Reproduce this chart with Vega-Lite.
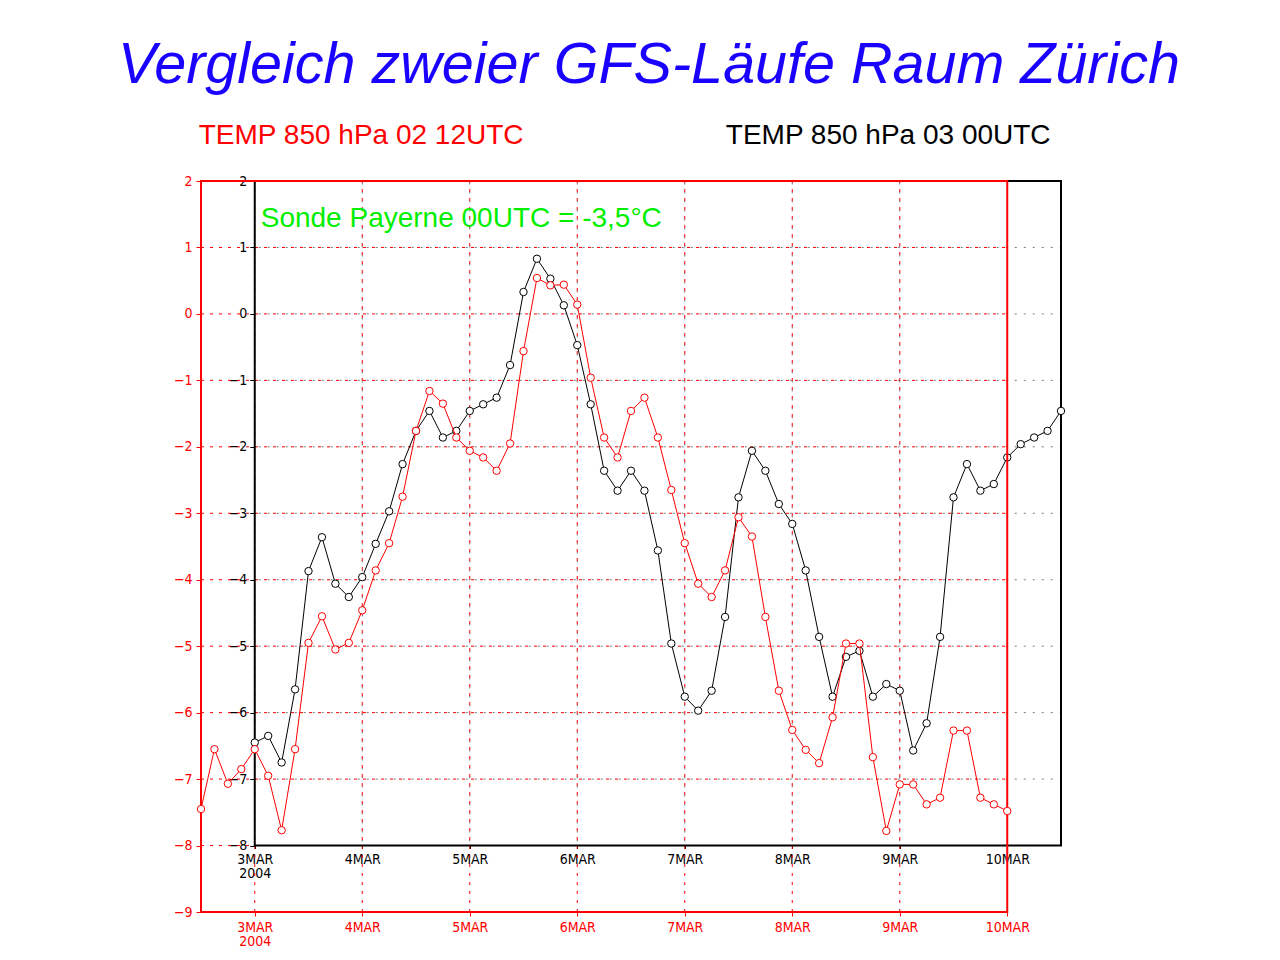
{
  "$schema": "https://vega.github.io/schema/vega-lite/v6.json",
  "width": 860,
  "height": 731,
  "autosize": "none",
  "padding": {"left": 201, "top": 181, "right": 219, "bottom": 48},
  "background": "white",
  "config": {"view": {"stroke": null}},
  "title": {
    "text": "Vergleich zweier GFS-Läufe Raum Zürich",
    "font": "Liberation Sans, Arial, sans-serif",
    "fontSize": 57.5,
    "fontStyle": "italic",
    "fontWeight": "normal",
    "color": "#1a00ff",
    "anchor": "middle",
    "frame": "group",
    "dx": 18,
    "offset": -19,
    "baseline": "alphabetic"
  },
  "datasets": {
    "levels": [{"v": -8}, {"v": -7}, {"v": -6}, {"v": -5}, {"v": -4}, {"v": -3}, {"v": -2}, {"v": -1}, {"v": 0}, {"v": 1}],
    "days": [
      {"d": 3, "t": "2004-03-03T00:00:00Z"}, {"d": 4, "t": "2004-03-04T00:00:00Z"},
      {"d": 5, "t": "2004-03-05T00:00:00Z"}, {"d": 6, "t": "2004-03-06T00:00:00Z"},
      {"d": 7, "t": "2004-03-07T00:00:00Z"}, {"d": 8, "t": "2004-03-08T00:00:00Z"},
      {"d": 9, "t": "2004-03-09T00:00:00Z"}, {"d": 10, "t": "2004-03-10T00:00:00Z"}
    ],
    "series": [
      {"run": "02 12UTC", "t": "2004-03-02T12:00:00Z", "v": -7.45},
      {"run": "02 12UTC", "t": "2004-03-02T15:00:00Z", "v": -6.55},
      {"run": "02 12UTC", "t": "2004-03-02T18:00:00Z", "v": -7.07},
      {"run": "02 12UTC", "t": "2004-03-02T21:00:00Z", "v": -6.85},
      {"run": "02 12UTC", "t": "2004-03-03T00:00:00Z", "v": -6.55},
      {"run": "02 12UTC", "t": "2004-03-03T03:00:00Z", "v": -6.95},
      {"run": "02 12UTC", "t": "2004-03-03T06:00:00Z", "v": -7.77},
      {"run": "02 12UTC", "t": "2004-03-03T09:00:00Z", "v": -6.55},
      {"run": "02 12UTC", "t": "2004-03-03T12:00:00Z", "v": -4.95},
      {"run": "02 12UTC", "t": "2004-03-03T15:00:00Z", "v": -4.55},
      {"run": "02 12UTC", "t": "2004-03-03T18:00:00Z", "v": -5.05},
      {"run": "02 12UTC", "t": "2004-03-03T21:00:00Z", "v": -4.95},
      {"run": "02 12UTC", "t": "2004-03-04T00:00:00Z", "v": -4.46},
      {"run": "02 12UTC", "t": "2004-03-04T03:00:00Z", "v": -3.86},
      {"run": "02 12UTC", "t": "2004-03-04T06:00:00Z", "v": -3.45},
      {"run": "02 12UTC", "t": "2004-03-04T09:00:00Z", "v": -2.75},
      {"run": "02 12UTC", "t": "2004-03-04T12:00:00Z", "v": -1.76},
      {"run": "02 12UTC", "t": "2004-03-04T15:00:00Z", "v": -1.16},
      {"run": "02 12UTC", "t": "2004-03-04T18:00:00Z", "v": -1.35},
      {"run": "02 12UTC", "t": "2004-03-04T21:00:00Z", "v": -1.86},
      {"run": "02 12UTC", "t": "2004-03-05T00:00:00Z", "v": -2.06},
      {"run": "02 12UTC", "t": "2004-03-05T03:00:00Z", "v": -2.16},
      {"run": "02 12UTC", "t": "2004-03-05T06:00:00Z", "v": -2.36},
      {"run": "02 12UTC", "t": "2004-03-05T09:00:00Z", "v": -1.95},
      {"run": "02 12UTC", "t": "2004-03-05T12:00:00Z", "v": -0.56},
      {"run": "02 12UTC", "t": "2004-03-05T15:00:00Z", "v": 0.54},
      {"run": "02 12UTC", "t": "2004-03-05T18:00:00Z", "v": 0.43},
      {"run": "02 12UTC", "t": "2004-03-05T21:00:00Z", "v": 0.44},
      {"run": "02 12UTC", "t": "2004-03-06T00:00:00Z", "v": 0.14},
      {"run": "02 12UTC", "t": "2004-03-06T03:00:00Z", "v": -0.96},
      {"run": "02 12UTC", "t": "2004-03-06T06:00:00Z", "v": -1.86},
      {"run": "02 12UTC", "t": "2004-03-06T09:00:00Z", "v": -2.16},
      {"run": "02 12UTC", "t": "2004-03-06T12:00:00Z", "v": -1.46},
      {"run": "02 12UTC", "t": "2004-03-06T15:00:00Z", "v": -1.26},
      {"run": "02 12UTC", "t": "2004-03-06T18:00:00Z", "v": -1.86},
      {"run": "02 12UTC", "t": "2004-03-06T21:00:00Z", "v": -2.65},
      {"run": "02 12UTC", "t": "2004-03-07T00:00:00Z", "v": -3.45},
      {"run": "02 12UTC", "t": "2004-03-07T03:00:00Z", "v": -4.06},
      {"run": "02 12UTC", "t": "2004-03-07T06:00:00Z", "v": -4.26},
      {"run": "02 12UTC", "t": "2004-03-07T09:00:00Z", "v": -3.86},
      {"run": "02 12UTC", "t": "2004-03-07T12:00:00Z", "v": -3.06},
      {"run": "02 12UTC", "t": "2004-03-07T15:00:00Z", "v": -3.35},
      {"run": "02 12UTC", "t": "2004-03-07T18:00:00Z", "v": -4.56},
      {"run": "02 12UTC", "t": "2004-03-07T21:00:00Z", "v": -5.67},
      {"run": "02 12UTC", "t": "2004-03-08T00:00:00Z", "v": -6.26},
      {"run": "02 12UTC", "t": "2004-03-08T03:00:00Z", "v": -6.56},
      {"run": "02 12UTC", "t": "2004-03-08T06:00:00Z", "v": -6.76},
      {"run": "02 12UTC", "t": "2004-03-08T09:00:00Z", "v": -6.07},
      {"run": "02 12UTC", "t": "2004-03-08T12:00:00Z", "v": -4.96},
      {"run": "02 12UTC", "t": "2004-03-08T15:00:00Z", "v": -4.96},
      {"run": "02 12UTC", "t": "2004-03-08T18:00:00Z", "v": -6.67},
      {"run": "02 12UTC", "t": "2004-03-08T21:00:00Z", "v": -7.78},
      {"run": "02 12UTC", "t": "2004-03-09T00:00:00Z", "v": -7.08},
      {"run": "02 12UTC", "t": "2004-03-09T03:00:00Z", "v": -7.08},
      {"run": "02 12UTC", "t": "2004-03-09T06:00:00Z", "v": -7.38},
      {"run": "02 12UTC", "t": "2004-03-09T09:00:00Z", "v": -7.28},
      {"run": "02 12UTC", "t": "2004-03-09T12:00:00Z", "v": -6.27},
      {"run": "02 12UTC", "t": "2004-03-09T15:00:00Z", "v": -6.27},
      {"run": "02 12UTC", "t": "2004-03-09T18:00:00Z", "v": -7.28},
      {"run": "02 12UTC", "t": "2004-03-09T21:00:00Z", "v": -7.38},
      {"run": "02 12UTC", "t": "2004-03-10T00:00:00Z", "v": -7.48},
      {"run": "03 00UTC", "t": "2004-03-03T00:00:00Z", "v": -6.45},
      {"run": "03 00UTC", "t": "2004-03-03T03:00:00Z", "v": -6.35},
      {"run": "03 00UTC", "t": "2004-03-03T06:00:00Z", "v": -6.75},
      {"run": "03 00UTC", "t": "2004-03-03T09:00:00Z", "v": -5.65},
      {"run": "03 00UTC", "t": "2004-03-03T12:00:00Z", "v": -3.87},
      {"run": "03 00UTC", "t": "2004-03-03T15:00:00Z", "v": -3.36},
      {"run": "03 00UTC", "t": "2004-03-03T18:00:00Z", "v": -4.06},
      {"run": "03 00UTC", "t": "2004-03-03T21:00:00Z", "v": -4.26},
      {"run": "03 00UTC", "t": "2004-03-04T00:00:00Z", "v": -3.96},
      {"run": "03 00UTC", "t": "2004-03-04T03:00:00Z", "v": -3.46},
      {"run": "03 00UTC", "t": "2004-03-04T06:00:00Z", "v": -2.97},
      {"run": "03 00UTC", "t": "2004-03-04T09:00:00Z", "v": -2.26},
      {"run": "03 00UTC", "t": "2004-03-04T12:00:00Z", "v": -1.76},
      {"run": "03 00UTC", "t": "2004-03-04T15:00:00Z", "v": -1.46},
      {"run": "03 00UTC", "t": "2004-03-04T18:00:00Z", "v": -1.86},
      {"run": "03 00UTC", "t": "2004-03-04T21:00:00Z", "v": -1.76},
      {"run": "03 00UTC", "t": "2004-03-05T00:00:00Z", "v": -1.46},
      {"run": "03 00UTC", "t": "2004-03-05T03:00:00Z", "v": -1.36},
      {"run": "03 00UTC", "t": "2004-03-05T06:00:00Z", "v": -1.26},
      {"run": "03 00UTC", "t": "2004-03-05T09:00:00Z", "v": -0.77},
      {"run": "03 00UTC", "t": "2004-03-05T12:00:00Z", "v": 0.33},
      {"run": "03 00UTC", "t": "2004-03-05T15:00:00Z", "v": 0.83},
      {"run": "03 00UTC", "t": "2004-03-05T18:00:00Z", "v": 0.53},
      {"run": "03 00UTC", "t": "2004-03-05T21:00:00Z", "v": 0.13},
      {"run": "03 00UTC", "t": "2004-03-06T00:00:00Z", "v": -0.47},
      {"run": "03 00UTC", "t": "2004-03-06T03:00:00Z", "v": -1.36},
      {"run": "03 00UTC", "t": "2004-03-06T06:00:00Z", "v": -2.36},
      {"run": "03 00UTC", "t": "2004-03-06T09:00:00Z", "v": -2.66},
      {"run": "03 00UTC", "t": "2004-03-06T12:00:00Z", "v": -2.36},
      {"run": "03 00UTC", "t": "2004-03-06T15:00:00Z", "v": -2.66},
      {"run": "03 00UTC", "t": "2004-03-06T18:00:00Z", "v": -3.56},
      {"run": "03 00UTC", "t": "2004-03-06T21:00:00Z", "v": -4.96},
      {"run": "03 00UTC", "t": "2004-03-07T00:00:00Z", "v": -5.76},
      {"run": "03 00UTC", "t": "2004-03-07T03:00:00Z", "v": -5.97},
      {"run": "03 00UTC", "t": "2004-03-07T06:00:00Z", "v": -5.67},
      {"run": "03 00UTC", "t": "2004-03-07T09:00:00Z", "v": -4.56},
      {"run": "03 00UTC", "t": "2004-03-07T12:00:00Z", "v": -2.76},
      {"run": "03 00UTC", "t": "2004-03-07T15:00:00Z", "v": -2.06},
      {"run": "03 00UTC", "t": "2004-03-07T18:00:00Z", "v": -2.36},
      {"run": "03 00UTC", "t": "2004-03-07T21:00:00Z", "v": -2.86},
      {"run": "03 00UTC", "t": "2004-03-08T00:00:00Z", "v": -3.16},
      {"run": "03 00UTC", "t": "2004-03-08T03:00:00Z", "v": -3.86},
      {"run": "03 00UTC", "t": "2004-03-08T06:00:00Z", "v": -4.86},
      {"run": "03 00UTC", "t": "2004-03-08T09:00:00Z", "v": -5.76},
      {"run": "03 00UTC", "t": "2004-03-08T12:00:00Z", "v": -5.16},
      {"run": "03 00UTC", "t": "2004-03-08T15:00:00Z", "v": -5.07},
      {"run": "03 00UTC", "t": "2004-03-08T18:00:00Z", "v": -5.76},
      {"run": "03 00UTC", "t": "2004-03-08T21:00:00Z", "v": -5.57},
      {"run": "03 00UTC", "t": "2004-03-09T00:00:00Z", "v": -5.67},
      {"run": "03 00UTC", "t": "2004-03-09T03:00:00Z", "v": -6.57},
      {"run": "03 00UTC", "t": "2004-03-09T06:00:00Z", "v": -6.16},
      {"run": "03 00UTC", "t": "2004-03-09T09:00:00Z", "v": -4.86},
      {"run": "03 00UTC", "t": "2004-03-09T12:00:00Z", "v": -2.76},
      {"run": "03 00UTC", "t": "2004-03-09T15:00:00Z", "v": -2.26},
      {"run": "03 00UTC", "t": "2004-03-09T18:00:00Z", "v": -2.66},
      {"run": "03 00UTC", "t": "2004-03-09T21:00:00Z", "v": -2.56},
      {"run": "03 00UTC", "t": "2004-03-10T00:00:00Z", "v": -2.16},
      {"run": "03 00UTC", "t": "2004-03-10T03:00:00Z", "v": -1.96},
      {"run": "03 00UTC", "t": "2004-03-10T06:00:00Z", "v": -1.86},
      {"run": "03 00UTC", "t": "2004-03-10T09:00:00Z", "v": -1.76},
      {"run": "03 00UTC", "t": "2004-03-10T12:00:00Z", "v": -1.46}
    ]
  },
  "resolve": {
    "scale": {"x": "independent", "y": "independent"},
    "axis": {"x": "independent", "y": "independent"}
  },
  "layer": [
    {
      "layer": [
        {
          "data": {"name": "levels"},
          "transform": [{"filter": "datum.v > -8"}],
          "mark": {"type": "rule", "color": "#7a7a7a", "strokeWidth": 1, "strokeDash": [2, 7], "strokeDashOffset": -4},
          "encoding": {
            "y": {"field": "v", "type": "quantitative", "scale": {"domain": [-9, 2], "nice": false, "zero": false}, "axis": null},
            "x": {"datum": {"year": 2004, "month": 3, "date": 3, "utc": true}, "type": "temporal", "scale": {"type": "utc", "nice": false, "domain": [{"year": 2004, "month": 3, "date": 2, "hours": 12, "utc": true}, {"year": 2004, "month": 3, "date": 10, "hours": 12, "utc": true}]}, "axis": null},
            "x2": {"datum": {"year": 2004, "month": 3, "date": 10, "hours": 12, "utc": true}}
          }
        },
        {
          "data": {"name": "days"},
          "transform": [{"filter": "datum.d > 3"}],
          "mark": {"type": "rule", "color": "#7a7a7a", "strokeWidth": 1, "strokeDash": [2, 7], "strokeDashOffset": -4},
          "encoding": {
            "x": {"field": "t", "type": "temporal", "scale": {"type": "utc", "nice": false, "domain": [{"year": 2004, "month": 3, "date": 2, "hours": 12, "utc": true}, {"year": 2004, "month": 3, "date": 10, "hours": 12, "utc": true}]}, "axis": null},
            "y": {"datum": -8, "type": "quantitative", "scale": {"domain": [-9, 2], "nice": false, "zero": false}, "axis": null},
            "y2": {"datum": 2}
          }
        }
      ]
    },
    {
      "layer": [
        {
          "data": {"name": "levels"},
          "mark": {"type": "rule", "color": "#ff0000", "strokeWidth": 1, "strokeDash": [3, 6]},
          "encoding": {
            "y": {"field": "v", "type": "quantitative", "scale": {"domain": [-9, 2], "nice": false, "zero": false}, "axis": null},
            "x": {"datum": {"year": 2004, "month": 3, "date": 2, "hours": 12, "utc": true}, "type": "temporal", "scale": {"type": "utc", "nice": false, "domain": [{"year": 2004, "month": 3, "date": 2, "hours": 12, "utc": true}, {"year": 2004, "month": 3, "date": 10, "hours": 12, "utc": true}]}, "axis": null},
            "x2": {"datum": {"year": 2004, "month": 3, "date": 10, "utc": true}}
          }
        },
        {
          "data": {"name": "days"},
          "transform": [{"filter": "datum.d < 10"}],
          "mark": {"type": "rule", "color": "#ff0000", "strokeWidth": 1, "strokeDash": [3, 6]},
          "encoding": {
            "x": {"field": "t", "type": "temporal", "scale": {"type": "utc", "nice": false, "domain": [{"year": 2004, "month": 3, "date": 2, "hours": 12, "utc": true}, {"year": 2004, "month": 3, "date": 10, "hours": 12, "utc": true}]}, "axis": null},
            "y": {"datum": -9, "type": "quantitative", "scale": {"domain": [-9, 2], "nice": false, "zero": false}, "axis": null},
            "y2": {"datum": 2}
          }
        }
      ]
    },
    {
      "data": {"values": [{}]},
      "mark": {"type": "rect", "fillOpacity": 0, "stroke": "#000000", "strokeWidth": 2},
      "encoding": {
        "x": {"datum": {"year": 2004, "month": 3, "date": 3, "utc": true}, "type": "temporal", "scale": {"type": "utc", "nice": false, "domain": [{"year": 2004, "month": 3, "date": 2, "hours": 12, "utc": true}, {"year": 2004, "month": 3, "date": 10, "hours": 12, "utc": true}]}, "axis": null},
        "x2": {"datum": {"year": 2004, "month": 3, "date": 10, "hours": 12, "utc": true}},
        "y": {"datum": -8, "type": "quantitative", "scale": {"domain": [-9, 2], "nice": false, "zero": false}, "axis": null},
        "y2": {"datum": 2}
      }
    },
    {
      "data": {"name": "series"},
      "transform": [{"filter": "datum.run == '03 00UTC'"}],
      "mark": {
        "type": "line", "color": "#000000", "strokeWidth": 1,
        "point": {"filled": false, "fill": "#ffffff", "fillOpacity": 1, "stroke": "#000000", "strokeWidth": 1, "size": 55, "shape": "circle", "opacity": 1}
      },
      "encoding": {
        "x": {
          "field": "t", "type": "temporal",
          "scale": {"type": "utc", "nice": false, "domain": [{"year": 2004, "month": 3, "date": 2, "hours": 12, "utc": true}, {"year": 2004, "month": 3, "date": 10, "hours": 12, "utc": true}]},
          "axis": {
            "orient": "bottom", "offset": -66.5, "title": null, "domain": false, "grid": false,
            "values": [
              {"year": 2004, "month": 3, "date": 3, "utc": true}, {"year": 2004, "month": 3, "date": 4, "utc": true},
              {"year": 2004, "month": 3, "date": 5, "utc": true}, {"year": 2004, "month": 3, "date": 6, "utc": true},
              {"year": 2004, "month": 3, "date": 7, "utc": true}, {"year": 2004, "month": 3, "date": 8, "utc": true},
              {"year": 2004, "month": 3, "date": 9, "utc": true}, {"year": 2004, "month": 3, "date": 10, "utc": true}
            ],
            "labelExpr": "utcdate(datum.value) == 3 ? [utcdate(datum.value) + 'MAR', '2004'] : utcdate(datum.value) + 'MAR'",
            "ticks": true, "tickColor": "#000000", "tickSize": 3, "tickWidth": 1,
            "labelColor": "#000000", "labelFont": "Liberation Sans Narrow, DejaVu Sans Condensed, sans-serif",
            "labelFontSize": 14, "labelPadding": 4, "labelLineHeight": 14,
            "labelFlush": false, "labelOverlap": false
          }
        },
        "y": {
          "field": "v", "type": "quantitative",
          "scale": {"domain": [-9, 2], "nice": false, "zero": false},
          "axis": {
            "orient": "left", "offset": -53.75, "title": null, "domain": false, "grid": false,
            "values": [-8, -7, -6, -5, -4, -3, -2, -1, 0, 1, 2],
            "ticks": true, "tickColor": "#000000", "tickSize": 5, "tickWidth": 1,
            "labelColor": "#000000", "labelFont": "Liberation Sans Narrow, DejaVu Sans Condensed, sans-serif",
            "labelFontSize": 14, "labelPadding": 3, "labelFlush": false, "labelOverlap": false
          }
        }
      }
    },
    {
      "data": {"values": [{}]},
      "mark": {"type": "rect", "fillOpacity": 0, "stroke": "#ff0000", "strokeWidth": 2},
      "encoding": {
        "x": {"datum": {"year": 2004, "month": 3, "date": 2, "hours": 12, "utc": true}, "type": "temporal", "scale": {"type": "utc", "nice": false, "domain": [{"year": 2004, "month": 3, "date": 2, "hours": 12, "utc": true}, {"year": 2004, "month": 3, "date": 10, "hours": 12, "utc": true}]}, "axis": null},
        "x2": {"datum": {"year": 2004, "month": 3, "date": 10, "utc": true}},
        "y": {"datum": -9, "type": "quantitative", "scale": {"domain": [-9, 2], "nice": false, "zero": false}, "axis": null},
        "y2": {"datum": 2}
      }
    },
    {
      "data": {"name": "series"},
      "transform": [{"filter": "datum.run == '02 12UTC'"}],
      "mark": {
        "type": "line", "color": "#ff0000", "strokeWidth": 1,
        "point": {"filled": false, "fill": "#ffffff", "fillOpacity": 1, "stroke": "#ff0000", "strokeWidth": 1, "size": 55, "shape": "circle", "opacity": 1}
      },
      "encoding": {
        "x": {
          "field": "t", "type": "temporal",
          "scale": {"type": "utc", "nice": false, "domain": [{"year": 2004, "month": 3, "date": 2, "hours": 12, "utc": true}, {"year": 2004, "month": 3, "date": 10, "hours": 12, "utc": true}]},
          "axis": {
            "orient": "bottom", "title": null, "domain": false, "grid": false,
            "values": [
              {"year": 2004, "month": 3, "date": 3, "utc": true}, {"year": 2004, "month": 3, "date": 4, "utc": true},
              {"year": 2004, "month": 3, "date": 5, "utc": true}, {"year": 2004, "month": 3, "date": 6, "utc": true},
              {"year": 2004, "month": 3, "date": 7, "utc": true}, {"year": 2004, "month": 3, "date": 8, "utc": true},
              {"year": 2004, "month": 3, "date": 9, "utc": true}, {"year": 2004, "month": 3, "date": 10, "utc": true}
            ],
            "labelExpr": "utcdate(datum.value) == 3 ? [utcdate(datum.value) + 'MAR', '2004'] : utcdate(datum.value) + 'MAR'",
            "ticks": true, "tickColor": "#ff0000", "tickSize": 4, "tickWidth": 1,
            "labelColor": "#ff0000", "labelFont": "Liberation Sans Narrow, DejaVu Sans Condensed, sans-serif",
            "labelFontSize": 14, "labelPadding": 4, "labelLineHeight": 14,
            "labelFlush": false, "labelOverlap": false
          }
        },
        "y": {
          "field": "v", "type": "quantitative",
          "scale": {"domain": [-9, 2], "nice": false, "zero": false},
          "axis": {
            "orient": "left", "title": null, "domain": false, "grid": false,
            "values": [-9, -8, -7, -6, -5, -4, -3, -2, -1, 0, 1, 2],
            "ticks": true, "tickColor": "#ff0000", "tickSize": 5, "tickWidth": 1,
            "labelColor": "#ff0000", "labelFont": "Liberation Sans Narrow, DejaVu Sans Condensed, sans-serif",
            "labelFontSize": 14, "labelPadding": 4, "labelFlush": false, "labelOverlap": false
          }
        }
      }
    },
    {
      "layer": [
        {
          "data": {"values": [{"label": "TEMP 850 hPa 02 12UTC"}]},
          "mark": {"type": "text", "align": "left", "baseline": "alphabetic", "font": "Liberation Sans, Arial, sans-serif", "fontSize": 28, "color": "#ff0000"},
          "encoding": {
            "text": {"field": "label"},
            "x": {"datum": {"year": 2004, "month": 3, "date": 2, "hours": 11, "minutes": 30, "utc": true}, "type": "temporal", "scale": {"type": "utc", "nice": false, "domain": [{"year": 2004, "month": 3, "date": 2, "hours": 12, "utc": true}, {"year": 2004, "month": 3, "date": 10, "hours": 12, "utc": true}]}, "axis": null},
            "y": {"datum": 2.557, "type": "quantitative", "scale": {"domain": [-9, 2], "nice": false, "zero": false}, "axis": null}
          }
        },
        {
          "data": {"values": [{"label": "TEMP 850 hPa 03 00UTC"}]},
          "mark": {"type": "text", "align": "left", "baseline": "alphabetic", "font": "Liberation Sans, Arial, sans-serif", "fontSize": 28, "color": "#000000"},
          "encoding": {
            "text": {"field": "label"},
            "x": {"datum": {"year": 2004, "month": 3, "date": 7, "hours": 9, "minutes": 10, "utc": true}, "type": "temporal", "scale": {"type": "utc", "nice": false, "domain": [{"year": 2004, "month": 3, "date": 2, "hours": 12, "utc": true}, {"year": 2004, "month": 3, "date": 10, "hours": 12, "utc": true}]}, "axis": null},
            "y": {"datum": 2.557, "type": "quantitative", "scale": {"domain": [-9, 2], "nice": false, "zero": false}, "axis": null}
          }
        },
        {
          "data": {"values": [{"label": "Sonde Payerne 00UTC = -3,5°C"}]},
          "mark": {"type": "text", "align": "left", "baseline": "alphabetic", "font": "Liberation Sans, Arial, sans-serif", "fontSize": 28, "color": "#00ee00"},
          "encoding": {
            "text": {"field": "label"},
            "x": {"datum": {"year": 2004, "month": 3, "date": 3, "hours": 1, "minutes": 20, "utc": true}, "type": "temporal", "scale": {"type": "utc", "nice": false, "domain": [{"year": 2004, "month": 3, "date": 2, "hours": 12, "utc": true}, {"year": 2004, "month": 3, "date": 10, "hours": 12, "utc": true}]}, "axis": null},
            "y": {"datum": 1.303, "type": "quantitative", "scale": {"domain": [-9, 2], "nice": false, "zero": false}, "axis": null}
          }
        }
      ]
    }
  ]
}
